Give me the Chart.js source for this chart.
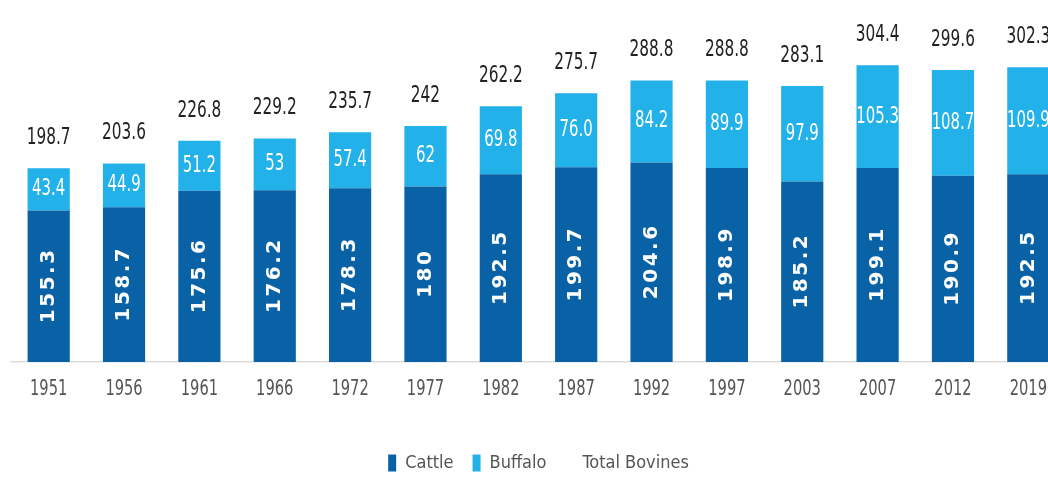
<!DOCTYPE html>
<html lang="en">
<head>
    <meta charset="UTF-8">
    <title>Bovine population</title>
    <style>
        body { margin: 0; background: #fff; overflow: hidden; }
        #grafico { position: relative; width: 1066px; height: 482px; }
    </style>
</head>
<body>
    <div id="grafico">
        <canvas id="myChart"></canvas>
    </div>
    <script src="https://cdn.jsdelivr.net/npm/chart.js"></script>
    <script>
        // census years and population (million)
        var anos = ["1951", "1956", "1961", "1966", "1972", "1977", "1982", "1987", "1992", "1997", "2003", "2007", "2012", "2019"];
        var cattle = ["155.3", "158.7", "175.6", "176.2", "178.3", "180", "192.5", "199.7", "204.6", "198.9", "185.2", "199.1", "190.9", "192.5"];
        var buffalo = ["43.4", "44.9", "51.2", "53", "57.4", "62", "69.8", "76.0", "84.2", "89.9", "97.9", "105.3", "108.7", "109.9"];
        var totalBovines = ["198.7", "203.6", "226.8", "229.2", "235.7", "242", "262.2", "275.7", "288.8", "288.8", "283.1", "304.4", "299.6", "302.3"];

        var condensada = "'DejaVu Sans Condensed', 'DejaVu Sans', sans-serif";

        // text squeezed horizontally
        function textoEstreito(ctx, texto, x, y, escala) {
            ctx.save();
            ctx.translate(x, y);
            ctx.scale(escala, 1);
            ctx.fillText(texto, 0, 0);
            ctx.restore();
        }

        // writes the values on and above the bars, and the years under the axis
        var rotulos = {
            id: "rotulos",
            afterDatasetsDraw: function (chart) {
                var ctx = chart.ctx;
                ctx.save();
                ctx.textAlign = "center";
                ctx.textBaseline = "middle";

                var m0 = chart.getDatasetMeta(0);
                ctx.fillStyle = "#fff";
                ctx.font = "bold 20px 'DejaVu Sans', sans-serif";
                ctx.letterSpacing = "2.5px";
                m0.data.forEach(function (bar, i) {
                    ctx.save();
                    ctx.translate(bar.x, (bar.y + bar.base) / 2);
                    ctx.rotate(-Math.PI / 2);
                    ctx.fillText(cattle[i], 1, 0);
                    ctx.restore();
                });

                ctx.letterSpacing = "0px";
                var m1 = chart.getDatasetMeta(1);
                ctx.font = "23px " + condensada;
                m1.data.forEach(function (bar, i) {
                    textoEstreito(ctx, buffalo[i], bar.x, (bar.y + bar.base) / 2, 0.72);
                });

                var m2 = chart.getDatasetMeta(2);
                ctx.fillStyle = "#222";
                m2.data.forEach(function (pt, i) {
                    textoEstreito(ctx, totalBovines[i], pt.x, pt.y - 30, 0.74);
                });

                var xs = chart.scales.x;
                ctx.fillStyle = "#555";
                ctx.font = "22px " + condensada;
                anos.forEach(function (ano, i) {
                    textoEstreito(ctx, ano, xs.getPixelForValue(i), xs.top + 27, 0.74);
                });
                ctx.restore();
            }
        };

        var data = {
            labels: anos,
            datasets: [{
                label: "Cattle",
                data: cattle,
                backgroundColor: "#0a62a6",
                stack: "bovinos",
                barPercentage: 0.56,
                categoryPercentage: 1
            }, {
                label: "Buffalo",
                data: buffalo,
                backgroundColor: "#22b1e8",
                stack: "bovinos",
                barPercentage: 0.56,
                categoryPercentage: 1
            }, {
                type: "line",
                label: "Total Bovines",
                data: totalBovines,
                stack: "total",
                showLine: false,
                pointRadius: 0,
                pointHoverRadius: 0,
                backgroundColor: "transparent",
                borderColor: "transparent",
                borderWidth: 0
            }]
        };

        var config = {
            type: "bar",
            data: data,
            options: {
                responsive: true,
                maintainAspectRatio: false,
                animation: false,
                layout: {
                    padding: { top: 11, left: 11, right: 0, bottom: 0 }
                },
                scales: {
                    x: {
                        stacked: true,
                        grid: { display: false },
                        border: { color: "#ddd", width: 1.5 },
                        ticks: { display: false },
                        afterFit: function (scale) {
                            scale.height = 73;
                        }
                    },
                    y: {
                        stacked: true,
                        display: false,
                        min: 0,
                        max: 360
                    }
                },
                plugins: {
                    legend: {
                        position: "bottom",
                        labels: {
                            boxWidth: 8,
                            boxHeight: 17,
                            padding: 19,
                            color: "#555",
                            font: { family: condensada, size: 18 }
                        }
                    },
                    tooltip: { enabled: false }
                }
            },
            plugins: [rotulos]
        };

        new Chart(document.getElementById("myChart"), config);
    </script>
</body>
</html>
